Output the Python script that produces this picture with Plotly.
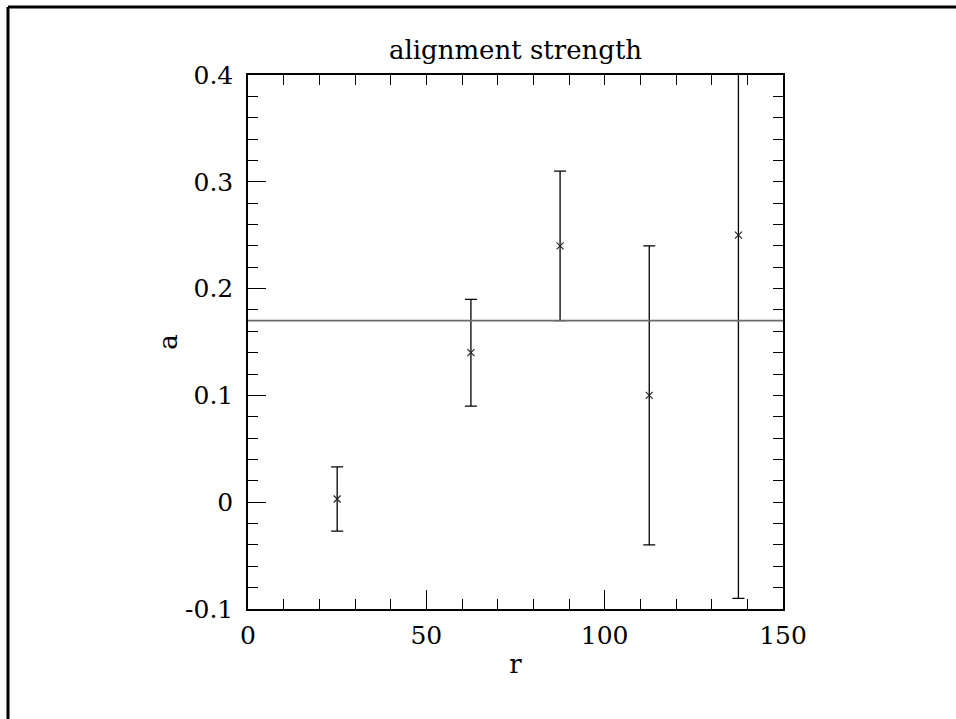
import plotly.graph_objects as go

# binned alignment measurements
r_bins = [25, 62.5, 87.5, 112.5, 137.5]
a_values = [0.003, 0.14, 0.24, 0.10, 0.25]
a_errors = [0.03, 0.05, 0.07, 0.14, 0.34]

# mean alignment level drawn across the full range
a_mean = 0.17
r_span = [0, 150]

x_ticks = [0, 50, 100, 150]
y_ticks = [-0.1, 0, 0.1, 0.2, 0.3, 0.4]
y_tick_text = ["-0.1", "0", "0.1", "0.2", "0.3", "0.4"]

FONT = "DejaVu Serif"
W, H = 956, 719
ML, MR, MT, MB = 248, 173, 75, 110
PW, PH = W - ML - MR, H - MT - MB

fig = go.Figure()

# mean level, drawn on the top/right frame axes (same ranges as the main ones)
fig.add_trace(go.Scatter(
    x=r_span, y=[a_mean] * len(r_span), mode="lines",
    xaxis="x2", yaxis="y2",
    line=dict(color="#6a6a6a", width=1.6), hoverinfo="skip",
))

fig.add_trace(go.Scatter(
    x=r_bins, y=a_values, mode="markers",
    marker=dict(symbol="x-thin", size=7, color="#222",
                line=dict(width=1.1, color="#222")),
    error_y=dict(type="data", array=a_errors, visible=True,
                 color="black", thickness=1.3, width=6),
))

line_common = dict(
    showline=True, linecolor="black", linewidth=1.5,
    ticks="inside", tickcolor="black", tickwidth=1.2,
    showgrid=False, zeroline=False,
)
tick_font = dict(family=FONT, size=25, color="black")

fig.update_layout(
    xaxis=dict(
        range=[0, 150], tickvals=x_ticks, ticklen=19, tickfont=tick_font,
        minor=dict(dtick=10, ticklen=10, ticks="inside", tickcolor="black",
                   tickwidth=1.2, showgrid=False),
        title=dict(text="r", font=dict(family=FONT, size=26, color="black"),
                   standoff=6),
        ticklabelstandoff=3,
        **line_common,
    ),
    yaxis=dict(
        range=[-0.1, 0.4], tickvals=y_ticks, ticktext=y_tick_text, ticklen=18,
        tickfont=tick_font,
        minor=dict(dtick=0.02, ticklen=10, ticks="inside", tickcolor="black",
                   tickwidth=1.2, showgrid=False),
        title=dict(text="a", font=dict(family=FONT, size=26, color="black"),
                   standoff=0),
        ticklabelstandoff=8,
        **line_common,
    ),
    xaxis2=dict(
        overlaying="x", side="top", matches="x", anchor="y2",
        dtick=10, tick0=0, ticklen=10, showticklabels=False,
        **line_common,
    ),
    yaxis2=dict(
        overlaying="y", side="right", matches="y", anchor="x2",
        dtick=0.02, tick0=0, ticklen=10, showticklabels=False,
        **line_common,
    ),
)

# outer frame on the top and left edges of the page
fx0 = (8 - ML) / PW
fy_top = (H - MB - 7) / PH
fig.add_shape(type="line", xref="paper", yref="paper",
              x0=fx0, x1=(W + 10 - ML) / PW, y0=fy_top, y1=fy_top,
              line=dict(color="black", width=3))
fig.add_shape(type="line", xref="paper", yref="paper",
              x0=fx0, x1=fx0, y0=fy_top, y1=-(MB + 10) / PH,
              line=dict(color="black", width=3))

fig.update_layout(
    width=W, height=H,
    margin=dict(l=ML, r=MR, t=MT, b=MB),
    paper_bgcolor="white", plot_bgcolor="white",
    showlegend=False,
    title=dict(text="alignment strength", x=(ML + PW / 2) / W, xanchor="center",
               y=1 - 50 / H, yanchor="middle", yref="container",
               font=dict(family=FONT, size=26, color="black")),
)

fig.write_html("out.html")
